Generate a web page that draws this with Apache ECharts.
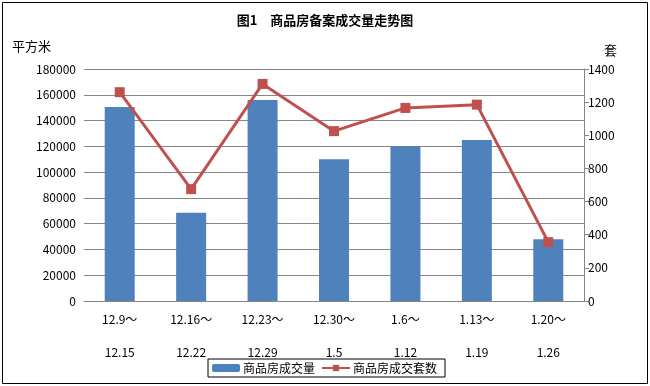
<!DOCTYPE html>
<html><head><meta charset="utf-8">
<script src="https://cdn.jsdelivr.net/npm/echarts@6/dist/echarts.min.js"></script>
<style>html,body{margin:0;padding:0;background:#fff}#c{width:650px;height:386px}</style>
</head><body><div id="c"></div>
<script>
var categories = ['12.9～\n12.15','12.16～\n12.22','12.23～\n12.29','12.30～\n1.5','1.6～\n1.12','1.13～\n1.19','1.20～\n1.26'];
var areaValues = [150500, 68500, 156000, 110000, 120000, 125000, 48000];
var unitValues = [1260, 675, 1310, 1025, 1165, 1185, 355];
var leftTicks = {min:0, max:180000, interval:20000};
var rightTicks = {min:0, max:1400, interval:200};
var FONT = '"Noto Sans CJK SC", sans-serif';
var chart = echarts.init(document.getElementById('c'));
chart.setOption({
  animation:false,
  backgroundColor:'#fff',
  textStyle:{fontFamily:FONT},
  title:{text:'图1　商品房备案成交量走势图', left:'center', top:9,
    textStyle:{fontSize:13, fontWeight:'bold', color:'#000', fontFamily:FONT}},
  graphic:[
    {type:'rect', shape:{x:2.5,y:2.5,width:645,height:381}, style:{fill:'none', stroke:'#000', lineWidth:1}, silent:true},
    {type:'text', left:12, top:40, style:{text:'平方米', fill:'#000', font:'13px '+FONT}},
    {type:'text', left:604, top:44, style:{text:'套', fill:'#000', font:'13px '+FONT}}
  ],
  legend:{left:208, top:359, orient:'horizontal', itemGap:6, itemWidth:28, itemHeight:8,
    padding:[3,8,3,4], borderColor:'#000', borderWidth:1,
    textStyle:{fontSize:12, color:'#000', fontFamily:FONT, padding:[0,0,0,-2]},
    data:['商品房成交量','商品房成交套数']},
  grid:{left:84, right:66, top:69, bottom:85},
  xAxis:{type:'category', data:categories,
    axisLine:{lineStyle:{color:'#868686'}}, axisTick:{show:false},
    axisLabel:{color:'#000', fontSize:12, lineHeight:33, margin:2, interval:0, fontFamily:FONT}},
  yAxis:[
    {type:'value', min:leftTicks.min, max:leftTicks.max, interval:leftTicks.interval,
     axisLine:{show:false}, axisTick:{show:false},
     splitLine:{lineStyle:{color:'#868686'}},
     axisLabel:{color:'#000', fontSize:12, margin:8, fontFamily:FONT, formatter:function(v){return String(v);}}},
    {type:'value', min:rightTicks.min, max:rightTicks.max, interval:rightTicks.interval,
     axisLine:{show:true, lineStyle:{color:'#868686'}}, axisTick:{show:true, length:5, lineStyle:{color:'#868686'}},
     splitLine:{show:false},
     axisLabel:{color:'#000', fontSize:12, margin:4, fontFamily:FONT, formatter:function(v){return String(v);}}}
  ],
  series:[
    {name:'商品房成交量', type:'bar', data:areaValues, barWidth:30, itemStyle:{color:'#4F81BD'}},
    {name:'商品房成交套数', type:'line', yAxisIndex:1, data:unitValues, symbol:'rect', symbolSize:10,
     lineStyle:{color:'#C0504D', width:3}, itemStyle:{color:'#C0504D'}}
  ]
});
</script></body></html>
